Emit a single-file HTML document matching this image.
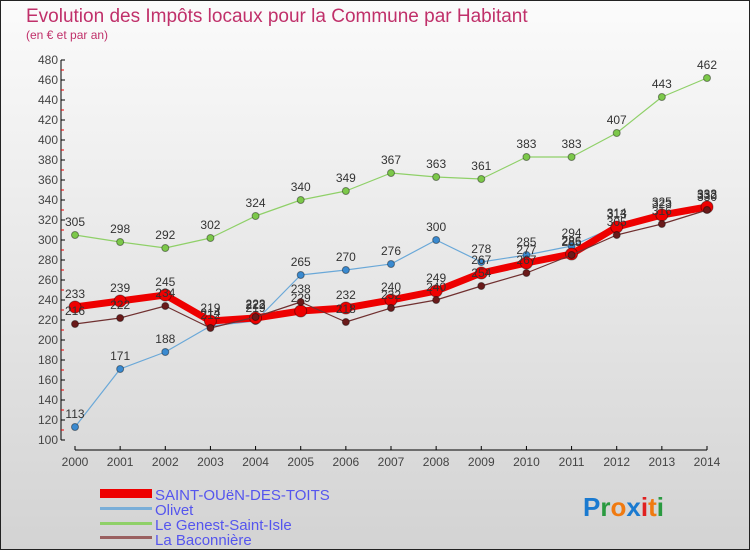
<!DOCTYPE html>
<html><head><meta charset="utf-8"><style>
html,body{margin:0;padding:0}
body{width:750px;height:550px;overflow:hidden;font-family:"Liberation Sans",sans-serif}
</style></head><body>
<svg width="750" height="550" xmlns="http://www.w3.org/2000/svg">
<defs><linearGradient id="bg" x1="0" y1="0" x2="0" y2="1"><stop offset="0" stop-color="#fbfbfb"/><stop offset="1" stop-color="#d3d3d3"/></linearGradient></defs>
<rect x="0.5" y="0.5" width="749" height="549" fill="url(#bg)" stroke="#222"/>
<text x="26" y="22" font-size="19" fill="#c0306a">Evolution des Impôts locaux pour la Commune par Habitant</text>
<text x="26" y="39" font-size="12" fill="#c0306a">(en € et par an)</text>
<g id="axes"></g>
<g id="series"></g>
<g id="legend">
<rect x="100" y="489" width="52" height="9" fill="#e00"/>
<text x="155" y="500" font-size="15" fill="#5555ee">SAINT-OUëN-DES-TOITS</text>
<rect x="100" y="507" width="52" height="3" fill="#7aaed8"/>
<text x="155" y="515" font-size="15" fill="#5555ee">Olivet</text>
<rect x="100" y="522" width="52" height="3" fill="#8fd068"/>
<text x="155" y="530" font-size="15" fill="#5555ee">Le Genest-Saint-Isle</text>
<rect x="100" y="536" width="52" height="3" fill="#9a6060"/>
<text x="155" y="545" font-size="15" fill="#5555ee">La Baconnière</text>
</g>
<text x="583" y="516" font-size="26" font-weight="bold"><tspan fill="#1a7ad0">P</tspan><tspan fill="#2a9a40">r</tspan><tspan fill="#f07a10">o</tspan><tspan fill="#1a7ad0">x</tspan><tspan fill="#e02020">i</tspan><tspan fill="#f07a10">t</tspan><tspan fill="#2a9a40">i</tspan></text>
</svg>
<script>
const years=[2000,2001,2002,2003,2004,2005,2006,2007,2008,2009,2010,2011,2012,2013,2014];
const yTicks=[100,120,140,160,180,200,220,240,260,280,300,320,340,360,380,400,420,440,460,480];
const saintOuen=[233,239,245,219,222,229,232,240,249,267,277,286,313,325,333];
const olivet=[113,171,188,214,219,265,270,276,300,278,285,294,314,323,332];
const genest=[305,298,292,302,324,340,349,367,363,361,383,383,407,443,462];
const baconniere=[216,222,234,212,223,238,218,232,240,254,267,285,305,316,330];
const NS="http://www.w3.org/2000/svg";
function xs(i){return 75+i*(707-75)/(years.length-1);}
function ys(v){return 440-(v-100)*(380/380);}
function mk(tag,attrs,parent){const e=document.createElementNS(NS,tag);for(const k in attrs)e.setAttribute(k,attrs[k]);parent.appendChild(e);return e;}
const ax=document.getElementById('axes');
let l=mk('line',{x1:61,y1:60,x2:61,y2:440,stroke:'#000'},ax);


l=mk('line',{x1:75,y1:450,x2:707,y2:450,stroke:'#000'},ax);


yTicks.forEach((t,i)=>{
  mk('line',{x1:61,y1:ys(t),x2:65,y2:ys(t),stroke:'#000'},ax);
  if(i<yTicks.length-1)mk('line',{x1:61,y1:ys(t+10),x2:64,y2:ys(t+10),stroke:'#e00'},ax);
  const tx=mk('text',{x:58,y:ys(t)+4,'font-size':12,'text-anchor':'end',fill:'#444'},ax);
  tx.textContent=t;
  
  
});
years.forEach((y,i)=>{
  mk('line',{x1:xs(i),y1:446,x2:xs(i),y2:450,stroke:'#000'},ax);
  const tx=mk('text',{x:xs(i),y:466,'font-size':12,'text-anchor':'middle',fill:'#444'},ax);
  tx.textContent=y;
  
  
});
const sg=document.getElementById('series');
function draw(vals,color,w,r,dot,name,labels){
  const g=mk('g',{},sg);
  
  
  const p=mk('polyline',{points:vals.map((v,i)=>xs(i)+','+ys(v)).join(' '),fill:'none',stroke:color,'stroke-width':w,'stroke-linejoin':'round'},g);
  
  
  vals.forEach((v,i)=>{
    const c=mk('circle',{cx:xs(i),cy:ys(v),r:r,fill:dot,stroke:'rgba(0,0,0,0.4)','stroke-width':1},g);
    
    
    const t=mk('text',{x:xs(i),y:ys(v)-9,'font-size':12,'text-anchor':'middle',fill:'#333'},g);
    t.textContent=v;
    
    
  });
}
draw(genest,'#8fd068',1.2,3.5,'#7cc84a','genest');
draw(olivet,'#6aa8d8',1.2,3.5,'#3a8ad0','olivet');
draw(saintOuen,'#ee0000',7,6,'#ee0000','saint-ouen');
draw(baconniere,'#703030',1.2,3.5,'#6a1a1a','baconniere');
</script>
</body></html>
